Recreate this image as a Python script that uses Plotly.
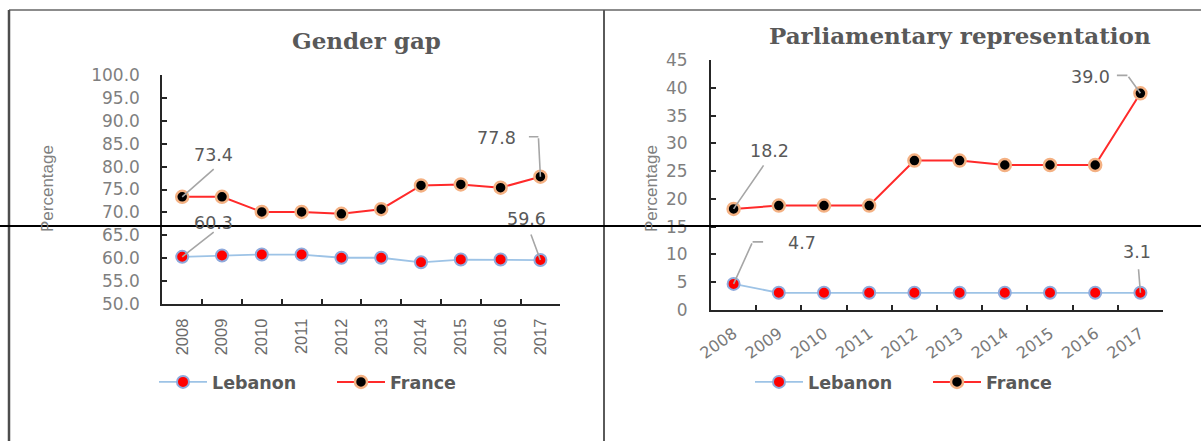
import plotly.graph_objects as go

# ---------------- data ----------------
years = ["2008", "2009", "2010", "2011", "2012", "2013", "2014", "2015", "2016", "2017"]
gap_lebanon = [60.3, 60.6, 60.8, 60.8, 60.1, 60.1, 59.1, 59.7, 59.7, 59.6]
gap_france = [73.4, 73.4, 70.1, 70.1, 69.7, 70.7, 75.9, 76.1, 75.4, 77.8]
parl_lebanon = [4.7, 3.1, 3.1, 3.1, 3.1, 3.1, 3.1, 3.1, 3.1, 3.1]
parl_france = [18.2, 18.8, 18.8, 18.8, 26.9, 26.9, 26.1, 26.1, 26.1, 39.0]
gap_ticks = [50.0, 55.0, 60.0, 65.0, 70.0, 75.0, 80.0, 85.0, 90.0, 95.0, 100.0]
parl_ticks = [0, 5, 10, 15, 20, 25, 30, 35, 40, 45]
titles = ["Gender gap", "Parliamentary representation"]
series_names = ["Lebanon", "France"]

W, H = 1201, 441


def px(x):
    return x / W


def py(y):
    return 1 - y / H


GRAY_TXT = "#595959"
TICK_GRAY = "#7f7f7f"
AXIS = "#262626"
LEAD = "#a6a6a6"

leb_style = dict(mode="lines+markers",
                 line=dict(color="#9dc3e6", width=1.8),
                 marker=dict(color="#ff0000", size=12, line=dict(color="#8faadc", width=2)))
fra_style = dict(mode="lines+markers",
                 line=dict(color="#ff2a2a", width=2),
                 marker=dict(color="#000000", size=12, line=dict(color="#f4b183", width=2.5)))

fig = go.Figure()
fig.add_trace(go.Scatter(x=years, y=gap_lebanon, name=series_names[0], xaxis="x", yaxis="y",
                         legend="legend", **leb_style))
fig.add_trace(go.Scatter(x=years, y=gap_france, name=series_names[1], xaxis="x", yaxis="y",
                         legend="legend", **fra_style))
fig.add_trace(go.Scatter(x=years, y=parl_lebanon, name=series_names[0], xaxis="x2", yaxis="y2",
                         legend="legend2", **leb_style))
fig.add_trace(go.Scatter(x=years, y=parl_france, name=series_names[1], xaxis="x2", yaxis="y2",
                         legend="legend2", **fra_style))

common_x = dict(type="category", range=[-0.5, 9.5], tickson="boundaries", ticks="inside",
                ticklen=5, tickwidth=2, tickcolor=AXIS, showline=True, linecolor=AXIS,
                linewidth=2, showgrid=False, zeroline=False, fixedrange=True, automargin=False)
common_y = dict(ticks="inside", ticklen=5, tickwidth=2, tickcolor=AXIS, showline=True,
                linecolor=AXIS, linewidth=2, showgrid=False, zeroline=False, fixedrange=True,
                automargin=False,
                tickfont=dict(family="DejaVu Sans", size=17, color=TICK_GRAY))

fig.update_layout(
    template="none",
    width=W, height=H, autosize=False,
    margin=dict(l=0, r=0, t=0, b=0, pad=0, autoexpand=False),
    paper_bgcolor="white", plot_bgcolor="white",
    xaxis=dict(domain=[px(162.3), px(560.3)], anchor="y", tickangle=-90,
               tickfont=dict(family="Liberation Sans", size=16.5, color="#6b6b6b"),
               ticklabelstandoff=6, **common_x),
    yaxis=dict(domain=[py(304), py(75)], anchor="x", range=[50, 100], tickvals=gap_ticks,
               tickformat=".1f", ticklabelstandoff=17, **common_y),
    xaxis2=dict(domain=[px(711), px(1163)], anchor="y2", tickangle=-36,
                tickfont=dict(family="DejaVu Sans", size=16, color="#7a7a7a"),
                ticklabelstandoff=6, **common_x),
    yaxis2=dict(domain=[py(310), py(60)], anchor="x2", range=[0, 45], tickvals=parl_ticks,
                ticklabelstandoff=18, **common_y),
    legend=dict(orientation="h", x=px(154), y=py(382), xanchor="left", yanchor="middle",
                font=dict(family="DejaVu Sans", size=17.5, color=GRAY_TXT, weight="bold"),
                itemwidth=48, entrywidth=115, bgcolor="rgba(0,0,0,0)"),
    legend2=dict(orientation="h", x=px(750), y=py(382), xanchor="left", yanchor="middle",
                 font=dict(family="DejaVu Sans", size=17.5, color=GRAY_TXT, weight="bold"),
                 itemwidth=48, entrywidth=115, bgcolor="rgba(0,0,0,0)"),
)

ann = []


def label(xr, yr, i, y, dx, dy):
    ann.append(dict(xref=xr, yref=yr, x=i, y=y, text=f"{y:.1f}", showarrow=False,
                    xshift=dx, yshift=-dy,
                    font=dict(family="DejaVu Sans", size=17.5, color=GRAY_TXT)))


def leader(xr, yr, i, y, ax, ay, sx=0, sy=0):
    ann.append(dict(xref=xr, yref=yr, x=i, y=y, text="", showarrow=True, arrowhead=0,
                    ax=ax, ay=ay, axref="pixel", ayref="pixel", xshift=sx, yshift=-sy,
                    arrowcolor=LEAD, arrowwidth=1.6, standoff=0, startstandoff=0))


first = 0
last = len(years) - 1

# Gender gap labels
label("x", "y", first, gap_france[first], 31, -42)
leader("x", "y", first, gap_france[first], 33, -29)
label("x", "y", first, gap_lebanon[first], 31, -34)
leader("x", "y", first, gap_lebanon[first], 33, -26)
label("x", "y", last, gap_france[last], -44, -39)
leader("x", "y", last, gap_france[last], -2, -40)
leader("x", "y", last, gap_france[last], -11, 0, sx=-2, sy=-40)
label("x", "y", last, gap_lebanon[last], -14, -41)
leader("x", "y", last, gap_lebanon[last], -10, -27)

# Parliamentary labels
label("x2", "y2", first, parl_france[first], 36, -58)
leader("x2", "y2", first, parl_france[first], 31, -45)
label("x2", "y2", last, parl_france[last], -50, -16)
leader("x2", "y2", last, parl_france[last], -13, -18)
leader("x2", "y2", last, parl_france[last], -12, 0, sx=-13, sy=-18)
label("x2", "y2", first, parl_lebanon[first], 68, -41)
leader("x2", "y2", first, parl_lebanon[first], 19, -42)
leader("x2", "y2", first, parl_lebanon[first], 12, 0, sx=19, sy=-42)
label("x2", "y2", last, parl_lebanon[last], -3, -41)
leader("x2", "y2", last, parl_lebanon[last], -2, -25)

# titles
ann.append(dict(xref="paper", yref="paper", x=px(366), y=py(40), text=titles[0], showarrow=False,
                xanchor="center", yanchor="middle",
                font=dict(family="DejaVu Serif", size=23, color=GRAY_TXT, weight="bold")))
ann.append(dict(xref="paper", yref="paper", x=px(960), y=py(36), text=titles[1], showarrow=False,
                xanchor="center", yanchor="middle",
                font=dict(family="DejaVu Serif", size=23, color=GRAY_TXT, weight="bold")))
# y-axis titles
for xc in (47, 651):
    ann.append(dict(xref="paper", yref="paper", x=px(xc), y=py(189), text="Percentage",
                    showarrow=False, textangle=-90, xanchor="center", yanchor="middle",
                    font=dict(family="Liberation Sans", size=17, color=TICK_GRAY)))

fig.update_layout(annotations=ann)

# table borders
shapes = [
    dict(type="line", xref="paper", yref="paper", x0=px(9), x1=1, y0=py(10), y1=py(10),
         line=dict(color="#8c8c8c", width=2)),
    dict(type="line", xref="paper", yref="paper", x0=px(9), x1=px(9), y0=py(10), y1=0,
         line=dict(color="#4d4d4d", width=2.5)),
    dict(type="line", xref="paper", yref="paper", x0=px(604), x1=px(604), y0=py(10), y1=0,
         line=dict(color="#5a5a5a", width=2)),
    dict(type="line", xref="paper", yref="paper", x0=0, x1=1, y0=py(226), y1=py(226),
         line=dict(color="#000000", width=2), layer="above"),
]
fig.update_layout(shapes=shapes)

fig.write_html("out.html",
               config={"displayModeBar": False, "staticPlot": True},
               post_script="document.body.style.margin='0';document.body.style.overflow='hidden';")
